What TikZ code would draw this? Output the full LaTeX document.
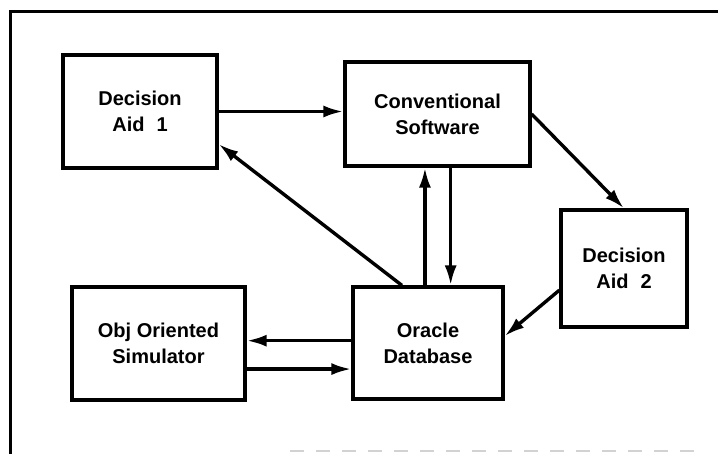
\documentclass[tikz,border=0pt]{standalone}
\usepackage{fontspec}
\setmainfont{Liberation Sans}
\usetikzlibrary{arrows.meta,calc}
\begin{document}
\begin{tikzpicture}[x=1pt,y=-1pt,
  box/.style={draw, line width=3.2pt, inner sep=0pt, align=center,
    font=\fontsize{20}{26}\selectfont\bfseries},
  link/.style={line width=3.4pt, -{Latex[length=20pt,width=12pt]}},
  frameline/.style={line width=3pt}]
\useasboundingbox (0,0) rectangle (718,454);

% outer frame (top and left sides)
\draw[frameline] (10,454) -- (10,12) -- (718,12);
\draw[gray!35, line width=1.5pt, dash pattern=on 14pt off 12pt] (290,451) -- (705,451);

% components
\node[box, minimum width=154pt, minimum height=113pt] (da1) at (140,111.5) {Decision\\Aid\hspace{0.6em}1};
\node[box, minimum width=185pt, minimum height=104pt] (cs) at (437.5,114) {Conventional\\Software};
\node[box, minimum width=126pt, minimum height=117pt] (da2) at (624,268.5) {Decision\\Aid\hspace{0.6em}2};
\node[box, minimum width=173pt, minimum height=113pt] (oos) at (158.5,343.5) {Obj Oriented\\Simulator};
\node[box, minimum width=150pt, minimum height=112pt] (db) at (428,343) {Oracle\\Database};

% data flows
\draw[link] (da1.east) -- (da1.east -| cs.west);
\draw[link] (cs.east) -- (da2.north);
\draw[link] ($(db.north west)!0.33!(db.north east)$) -- ($(da1.north east)!0.78!(da1.south east)$);
\draw[link] ($(db.north west)!0.48!(db.north east)$) coordinate (up) -- (up |- cs.south);
\draw[link] ($(cs.south west)!0.57!(cs.south east)$) coordinate (dn) -- (dn |- db.north);
\draw[link] ($(da2.north west)!0.68!(da2.south west)$) -- ($(db.north east)!0.44!(db.south east)$);
\draw[link] ($(db.north west)!0.48!(db.south west)$) coordinate (l1) -- (l1 -| oos.east);
\draw[link] ($(oos.north east)!0.72!(oos.south east)$) coordinate (l2) -- (l2 -| db.west);
\end{tikzpicture}
\end{document}
